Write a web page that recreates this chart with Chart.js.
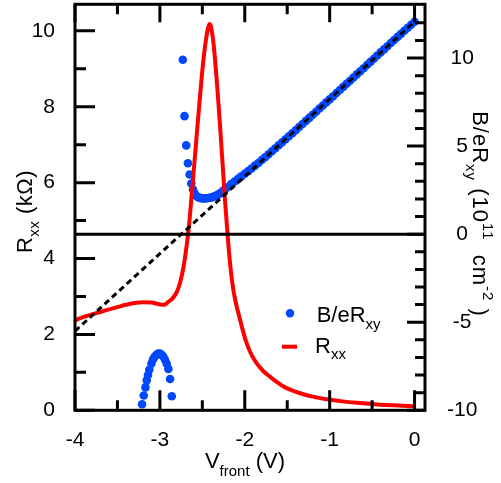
<!DOCTYPE html>
<html><head><meta charset="utf-8">
<script src="https://cdn.jsdelivr.net/npm/chart.js@4"></script>
<style>html,body{margin:0;padding:0;background:#fff}#wrap{width:501px;height:483px}</style>
</head><body><div id="wrap"><canvas id="c" width="501" height="483"></canvas></div>
<script>
const FONT = '"Liberation Sans", Arial, Helvetica, sans-serif';

// R_xx (kOhm) versus V_front (V)
const rxxV = [-4.0,-3.9,-3.8,-3.7,-3.6,-3.5,-3.4,-3.3,-3.2,-3.1,-3.0,-2.95,-2.9,-2.85,-2.8,-2.76,-2.72,-2.69,-2.66,-2.63,-2.6,-2.57,-2.54,-2.51,-2.48,-2.455,-2.435,-2.416,-2.4,-2.385,-2.365,-2.345,-2.32,-2.29,-2.26,-2.23,-2.2,-2.17,-2.14,-2.11,-2.08,-2.054,-2.02,-1.975,-1.92,-1.857,-1.78,-1.7,-1.62,-1.544,-1.45,-1.347,-1.2,-1.032,-0.85,-0.64,-0.45,-0.246,0.0];
const rxxK = [2.37,2.46,2.53,2.59,2.66,2.72,2.78,2.83,2.85,2.84,2.79,2.78,2.86,2.95,3.12,3.38,3.8,4.25,4.8,5.55,6.35,7.15,7.95,8.72,9.38,9.8,10.05,10.18,10.12,9.95,9.6,9.1,8.4,7.45,6.45,5.45,4.55,3.8,3.25,2.88,2.6,2.37,2.08,1.75,1.46,1.23,1.03,0.88,0.74,0.63,0.53,0.45,0.36,0.29,0.235,0.19,0.155,0.13,0.11];

// B/eR_xy (10^11 cm^-2): lower branch
const arcV = [-3.21,-3.19,-3.17,-3.155,-3.14,-3.125,-3.10,-3.08,-3.06,-3.04,-3.02,-3.00,-2.98,-2.96,-2.94,-2.92,-2.90,-2.88,-2.86];
const arcN = [-9.66,-9.16,-8.7,-8.3,-8.0,-7.7,-7.35,-7.1,-6.95,-6.85,-6.78,-6.78,-6.85,-6.95,-7.13,-7.35,-7.65,-8.22,-9.2];
// B/eR_xy: upper branch near the minimum
const minV = [-2.73,-2.71,-2.69,-2.67,-2.65,-2.63,-2.61,-2.59,-2.57,-2.55,-2.53,-2.51,-2.49,-2.47,-2.45,-2.43,-2.41,-2.39,-2.37,-2.35,-2.33,-2.31,-2.29,-2.27,-2.25,-2.23,-2.21];
const minN = [9.9,6.7,5.04,4.03,3.39,2.88,2.53,2.30,2.17,2.10,2.06,2.04,2.03,2.03,2.04,2.05,2.07,2.09,2.12,2.16,2.21,2.26,2.32,2.39,2.47,2.56,2.65];
// B/eR_xy: upper branch, rising part
const riseV = [-2.16,-2.12,-2.08,-2.04,-2.00,-1.96,-1.92,-1.88,-1.84,-1.80,-1.76,-1.72,-1.68,-1.64,-1.60,-1.56,-1.52,-1.48,-1.44,-1.40,-1.36,-1.32,-1.28,-1.24,-1.20,-1.16,-1.12,-1.08,-1.04,-1.00,-0.96,-0.92,-0.88,-0.84,-0.80,-0.76,-0.72,-0.68,-0.64,-0.60,-0.56,-0.52,-0.48,-0.44,-0.40,-0.36,-0.32,-0.28,-0.24,-0.20,-0.16,-0.12,-0.08,-0.04,0.00];
const riseN = [2.85,2.99,3.14,3.28,3.43,3.58,3.73,3.89,4.04,4.21,4.37,4.54,4.71,4.88,5.05,5.22,5.39,5.56,5.73,5.90,6.08,6.25,6.43,6.60,6.78,6.95,7.13,7.30,7.48,7.65,7.83,8.01,8.18,8.36,8.54,8.71,8.89,9.07,9.25,9.42,9.60,9.78,9.96,10.14,10.32,10.49,10.67,10.85,11.02,11.20,11.37,11.55,11.72,11.89,12.06];
// dashed guide line
const fitV = [-4, 0];
const fitN = [-5.5, 12.06];

// axes
const xTicks = [-4,-3,-2,-1,0];
const xMinor = [-3.5,-2.5,-1.5,-0.5];
const yTicks = [0,2,4,6,8,10];
const yMinor = [1,3,5,7,9];
const y2Ticks = [-10,-5,0,5,10];
const y2Minor = [-9,-8,-7,-6,-4,-3,-2,-1,1,2,3,4,6,7,8,9,11,12];

const pts = (xs, ys) => xs.map((v, i) => ({x: v, y: ys[i]}));
const BLUE = '#0048ff', RED = '#ff0000';

function rich(ctx, segs, x, y, rot, align, spacing) {
  ctx.save();
  ctx.translate(x, y); ctx.rotate(rot);
  if (spacing) ctx.letterSpacing = spacing + 'px';
  let w = 0;
  segs.forEach(s => { ctx.font = s.size + 'px ' + FONT; s.w = ctx.measureText(s.t).width; w += s.w; });
  let cx = align === 'center' ? -w / 2 : 0;
  ctx.textBaseline = 'alphabetic'; ctx.textAlign = 'left'; ctx.fillStyle = '#000';
  segs.forEach(s => { ctx.font = s.size + 'px ' + FONT; ctx.fillText(s.t, cx, s.dy || 0); cx += s.w; });
  ctx.restore();
}

const decor = {
  id: 'decor',
  afterDatasetsDraw(chart) {
    const {ctx, chartArea: a, scales: {x, y, y2}} = chart;
    ctx.save();
    ctx.strokeStyle = '#000'; ctx.lineWidth = 3; ctx.lineCap = 'butt';
    const z = y2.getPixelForValue(0);
    ctx.beginPath(); ctx.moveTo(a.left, z); ctx.lineTo(a.right, z); ctx.stroke();
    ctx.strokeRect(a.left, a.top, a.right - a.left, a.bottom - a.top);
    ctx.beginPath();
    const vt = (vals, len) => vals.forEach(v => {
      const p = x.getPixelForValue(v);
      ctx.moveTo(p, a.bottom); ctx.lineTo(p, a.bottom - len[0]);
      ctx.moveTo(p, a.top); ctx.lineTo(p, a.top + len[1]);
    });
    vt(xTicks, [20, 18]); vt(xMinor, [10, 10]);
    yTicks.forEach(v => { const p = y.getPixelForValue(v); ctx.moveTo(a.left, p); ctx.lineTo(a.left + 20, p); });
    yMinor.forEach(v => { const p = y.getPixelForValue(v); ctx.moveTo(a.left, p); ctx.lineTo(a.left + 11, p); });
    y2Ticks.forEach(v => { const p = y2.getPixelForValue(v); ctx.moveTo(a.right, p); ctx.lineTo(a.right - 18, p); });
    y2Minor.forEach(v => { const p = y2.getPixelForValue(v); ctx.moveTo(a.right, p); ctx.lineTo(a.right - 10, p); });
    ctx.stroke();
    ctx.restore();
  },
  afterDraw(chart) {
    const ctx = chart.ctx;
    rich(ctx, [{t: 'V', size: 22}, {t: 'front', size: 15, dy: 8}, {t: ' (V)', size: 22}], 245, 468, 0, 'center');
    rich(ctx, [{t: 'R', size: 22}, {t: 'xx', size: 15, dy: 7}, {t: ' (k\u03A9)', size: 22}], 32, 211.5, -Math.PI / 2, 'center', 0.5);
    rich(ctx, [{t: 'B/eR', size: 22}, {t: 'xy', size: 15, dy: 7}, {t: ' (10', size: 22}, {t: '11', size: 15, dy: -10},
               {t: '  cm', size: 22}, {t: '-2', size: 15, dy: -10}, {t: ' )', size: 22}], 473, 214, Math.PI / 2, 'center', 1);
    ctx.save();
    ctx.fillStyle = BLUE; ctx.beginPath(); ctx.arc(290, 313.3, 4.2, 0, Math.PI * 2); ctx.fill();
    ctx.strokeStyle = RED; ctx.lineWidth = 4; ctx.beginPath(); ctx.moveTo(282, 346.7); ctx.lineTo(297, 346.7); ctx.stroke();
    ctx.restore();
    rich(ctx, [{t: 'B/eR', size: 22}, {t: 'xy', size: 15, dy: 7}], 316.7, 321.7, 0, 'left');
    rich(ctx, [{t: 'R', size: 22}, {t: 'xx', size: 15, dy: 6}], 315, 353, 0, 'left');
  }
};

const tickFont = {family: FONT, size: 21};
new Chart(document.getElementById('c'), {
  type: 'scatter',
  data: {datasets: [
    {label: 'fit', data: pts(fitV, fitN), yAxisID: 'y2', showLine: true, borderColor: '#000', borderWidth: 3,
     borderDash: [6, 4], pointRadius: 0, order: 0},
    {label: 'Rxx', data: pts(rxxV, rxxK), yAxisID: 'y', showLine: true, borderColor: RED, borderWidth: 4,
     pointRadius: 0, cubicInterpolationMode: 'monotone', order: 1},
    {label: 'B/eRxy', data: pts(arcV, arcN).concat(pts(minV, minN), pts(riseV, riseN)), yAxisID: 'y2', showLine: false,
     pointRadius: 4.3, pointBackgroundColor: BLUE, pointBorderWidth: 0, order: 2}
  ]},
  options: {
    responsive: false, animation: false,
    layout: {padding: {top: 1.7, left: 0, right: 0, bottom: 0}},
    plugins: {legend: {display: false}, tooltip: {enabled: false}},
    scales: {
      x: {type: 'linear', position: 'bottom', min: -4, max: 0.123,
          grid: {display: false}, border: {display: false},
          afterBuildTicks: s => { s.ticks = xTicks.map(v => ({value: v})); },
          afterFit: s => { s.height = 72.7; s.paddingLeft = 0; s.paddingRight = 0; },
          ticks: {font: tickFont, color: '#000', padding: 9, maxRotation: 0, autoSkip: false, callback: v => String(v)}},
      y: {type: 'linear', position: 'left', min: 0, max: 10.7,
          grid: {display: false}, border: {display: false},
          afterBuildTicks: s => { s.ticks = yTicks.map(v => ({value: v})); },
          afterFit: s => { s.width = 75; s.paddingTop = 0; s.paddingBottom = 0; },
          ticks: {font: tickFont, color: '#000', padding: 12, autoSkip: false, callback: v => String(v)}},
      y2: {type: 'linear', position: 'right', min: -10, max: 13.05,
          grid: {display: false}, border: {display: false},
          afterBuildTicks: s => { s.ticks = y2Ticks.map(v => ({value: v})); },
          afterFit: s => { s.width = 76; s.paddingTop = 0; s.paddingBottom = 0; },
          ticks: {font: tickFont, color: '#000', padding: 14, crossAlign: 'center', autoSkip: false, callback: v => String(v)}}
    }
  },
  plugins: [decor]
});
</script></body></html>
